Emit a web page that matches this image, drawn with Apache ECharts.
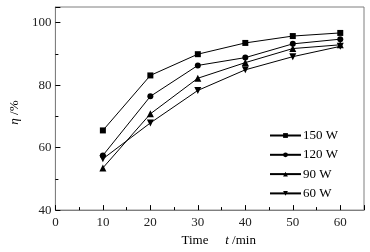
<!DOCTYPE html>
<html><head><meta charset="utf-8">
<script src="https://cdn.jsdelivr.net/npm/echarts@6/dist/echarts.min.js"></script>
<style>html,body{margin:0;padding:0;background:#fff}#c{width:370px;height:252px}</style>
</head><body><div id="c"></div>
<script>
const times = [10, 20, 30, 40, 50, 60];
const s150 = [65.5, 83.1, 89.9, 93.5, 95.7, 96.7];
const s120 = [57.5, 76.4, 86.3, 88.8, 93.2, 94.7];
const s90 = [53.5, 70.8, 82.2, 87.2, 91.7, 92.9];
const s60 = [56.4, 67.9, 78.3, 84.9, 89.1, 92.4];
const seriesNames = ['150 W', '120 W', '90 W', '60 W'];

const font = '"Liberation Serif", "Times New Roman", serif';
const gray = '#7f7f7f';
function mk(name, vals, symbol, size, rot) {
  return {
    name: name, type: 'line', data: times.map((t, i) => [t, vals[i]]),
    symbol: symbol, symbolSize: size, symbolRotate: rot || 0,
    lineStyle: {color: '#000', width: 1}, itemStyle: {color: '#000'},
    emphasis: {disabled: true}, animation: false
  };
}
const chart = echarts.init(document.getElementById('c'));
chart.setOption({
  animation: false,
  grid: {left: 49, right: 6, top: 7, bottom: 37, show: true, borderColor: gray, borderWidth: 1},
  legend: {
    orient: 'vertical', left: 264, top: 123, itemWidth: 31, itemHeight: 6, itemGap: 4.3,
    textStyle: {fontFamily: font, fontSize: 13, color: '#000', padding: [0,0,0,-3], lineHeight: 15},
    data: seriesNames
  },
  xAxis: {
    type: 'value', min: 0, max: 65, interval: 10,
    axisLine: {lineStyle: {color: gray}},
    axisTick: {inside: true, length: 5, lineStyle: {color: '#000'}},
    minorTick: {show: true, splitNumber: 2, length: 3, lineStyle: {color: '#000'}},
    splitLine: {show: false},
    axisLabel: {showMaxLabel: false, fontFamily: font, fontSize: 13, color: '#222', margin: 6},
    name: '{a|Time}     {i|t} {a|/min}', nameLocation: 'middle', nameGap: 23,
    nameTextStyle: {padding: [0, 0, 0, 18], rich: {
      a: {fontFamily: font, fontSize: 13, color: '#000'},
      i: {fontFamily: font, fontSize: 13, fontStyle: 'italic', color: '#000'}}}
  },
  yAxis: {
    type: 'value', min: 40, max: 105, interval: 20,
    axisLine: {lineStyle: {color: gray}},
    axisTick: {inside: true, length: 5, lineStyle: {color: '#000'}},
    minorTick: {show: true, splitNumber: 2, length: 3, lineStyle: {color: '#000'}},
    splitLine: {show: false},
    axisLabel: {showMaxLabel: false, fontFamily: font, fontSize: 13, color: '#222', margin: 4},
    name: '{i|η} {a|/%}', nameLocation: 'middle', nameGap: 32,
    nameTextStyle: {padding: [0, 8, 0, 0], rich: {
      a: {fontFamily: font, fontSize: 13, color: '#000'},
      i: {fontFamily: font, fontSize: 13, fontStyle: 'italic', color: '#000'}}}
  },
  series: [
    mk(seriesNames[0], s150, 'rect', 6),
    mk(seriesNames[1], s120, 'circle', 6),
    mk(seriesNames[2], s90, 'triangle', 7),
    mk(seriesNames[3], s60, 'triangle', 7, 180)
  ]
});
</script></body></html>
